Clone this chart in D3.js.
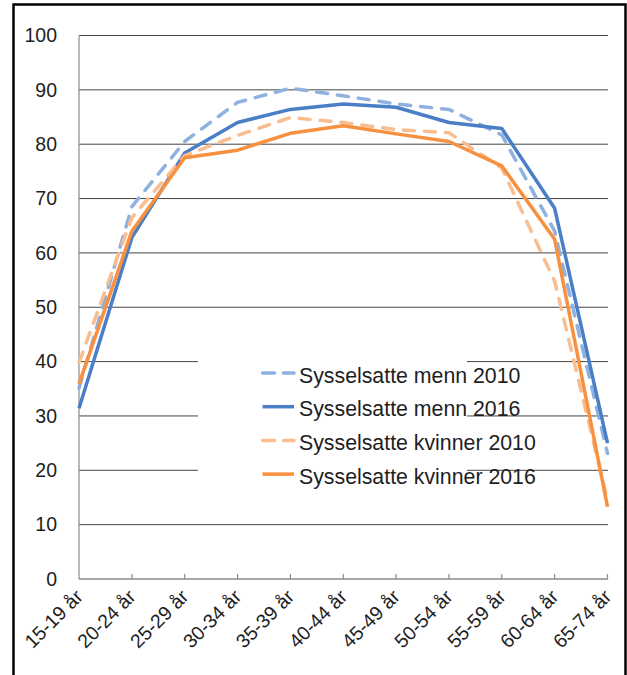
<!DOCTYPE html>
<html>
<head>
<meta charset="utf-8">
<script src="https://cdn.jsdelivr.net/npm/d3@7"></script>
<style>
  html, body { margin: 0; padding: 0; background: #fff; }
  svg { display: block; font-family: "Liberation Sans", Arial, sans-serif; }
</style>
</head>
<body>
<svg id="chart" width="627" height="675"></svg>
<script>
const ageGroups = ["15-19 år", "20-24 år", "25-29 år", "30-34 år", "35-39 år", "40-44 år",
  "45-49 år", "50-54 år", "55-59 år", "60-64 år", "65-74 år"];

const menn2010 = [35.1, 68.5, 80.5, 87.7, 90.3, 88.9, 87.4, 86.4, 81.7, 64.0, 23.1];
const menn2016 = [31.4, 62.8, 78.4, 84.0, 86.4, 87.4, 86.8, 84.0, 82.9, 68.2, 25.0];
const kvinner2010 = [39.8, 66.5, 77.9, 81.6, 84.9, 84.0, 82.7, 82.1, 75.6, 54.8, 14.5];
const kvinner2016 = [35.9, 64.0, 77.5, 78.9, 82.0, 83.4, 81.9, 80.5, 76.0, 62.5, 13.3];

const yTicks = [0, 10, 20, 30, 40, 50, 60, 70, 80, 90, 100];

const series = [
  { label: "Sysselsatte menn 2010", values: menn2010, color: "#8FB1DF", dashed: true },
  { label: "Sysselsatte menn 2016", values: menn2016, color: "#4A7EC6", dashed: false },
  { label: "Sysselsatte kvinner 2010", values: kvinner2010, color: "#F9BD90", dashed: true },
  { label: "Sysselsatte kvinner 2016", values: kvinner2016, color: "#F7903F", dashed: false },
];

const svg = d3.select("#chart");

// outer frame (bottom edge runs off the picture)
svg.append("rect")
  .attr("x", 13.5)
  .attr("y", 4.5)
  .attr("width", 612)
  .attr("height", 690)
  .attr("fill", "none")
  .attr("stroke", "#000")
  .attr("stroke-width", 2.5);

const x = d3.scalePoint().domain(ageGroups).range([79, 607.5]);
const y = d3.scaleLinear().domain([0, 100]).range([579, 35.5]);

// gridlines
svg.append("g")
  .selectAll("line")
  .data(yTicks.filter((d) => d > 0))
  .enter()
  .append("line")
  .attr("x1", 79)
  .attr("x2", 608)
  .attr("y1", (d) => y(d))
  .attr("y2", (d) => y(d))
  .attr("stroke", "#444")
  .attr("stroke-width", 1);

// y labels
svg.append("g")
  .selectAll("text")
  .data(yTicks)
  .enter()
  .append("text")
  .attr("x", 57)
  .attr("y", (d) => y(d))
  .attr("dy", "0.35em")
  .attr("text-anchor", "end")
  .attr("font-size", "19.5px")
  .attr("fill", "#1e1e1e")
  .text((d) => d);

// axes
svg.append("line")
  .attr("x1", 79).attr("x2", 79)
  .attr("y1", y(100)).attr("y2", y(0))
  .attr("stroke", "#8a8a8a")
  .attr("stroke-width", 1.2);

svg.append("line")
  .attr("x1", 79).attr("x2", 608)
  .attr("y1", y(0)).attr("y2", y(0))
  .attr("stroke", "#8a8a8a")
  .attr("stroke-width", 1.5);

svg.append("g")
  .selectAll("line")
  .data(ageGroups.slice(1))
  .enter()
  .append("line")
  .attr("x1", (d) => x(d))
  .attr("x2", (d) => x(d))
  .attr("y1", y(0))
  .attr("y2", y(0) - 5)
  .attr("stroke", "#8a8a8a")
  .attr("stroke-width", 1.2);

svg.append("g")
  .selectAll("text")
  .data(ageGroups)
  .enter()
  .append("text")
  .attr("transform", (d) => `translate(${x(d) + 5},${598}) rotate(-45)`)
  .attr("text-anchor", "end")
  .attr("font-size", "19.5px")
  .attr("fill", "#1e1e1e")
  .text((d) => d);

// legend background hides part of the gridlines
svg.append("rect")
  .attr("x", 198)
  .attr("y", 340)
  .attr("width", 269)
  .attr("height", 160)
  .attr("fill", "#fff");

// lines
const line = d3.line()
  .x((d, i) => x(ageGroups[i]))
  .y((d) => y(d));

svg.append("g")
  .selectAll("path")
  .data(series)
  .enter()
  .append("path")
  .attr("d", (d) => line(d.values))
  .attr("fill", "none")
  .attr("stroke", (d) => d.color)
  .attr("stroke-width", 3.5)
  .attr("stroke-linejoin", "round")
  .attr("stroke-linecap", (d) => (d.dashed ? "round" : "butt"))
  .attr("stroke-dasharray", (d) => (d.dashed ? "11,10" : null));

// legend
const legend = svg.append("g")
  .selectAll("g")
  .data(series)
  .enter()
  .append("g")
  .attr("transform", (d, i) => `translate(261,${373 + i * 33.7})`);

legend.append("line")
  .attr("x1", 1.5)
  .attr("x2", 33)
  .attr("stroke", (d) => d.color)
  .attr("stroke-width", 3.5)
  .attr("stroke-linecap", (d) => (d.dashed ? "round" : "butt"))
  .attr("stroke-dasharray", (d) => (d.dashed ? "12,9" : null));

legend.append("text")
  .attr("x", 38)
  .attr("y", 9.5)
  .attr("font-size", "21.3px")
  .attr("fill", "#1e1e1e")
  .text((d) => d.label);
</script>
</body>
</html>
